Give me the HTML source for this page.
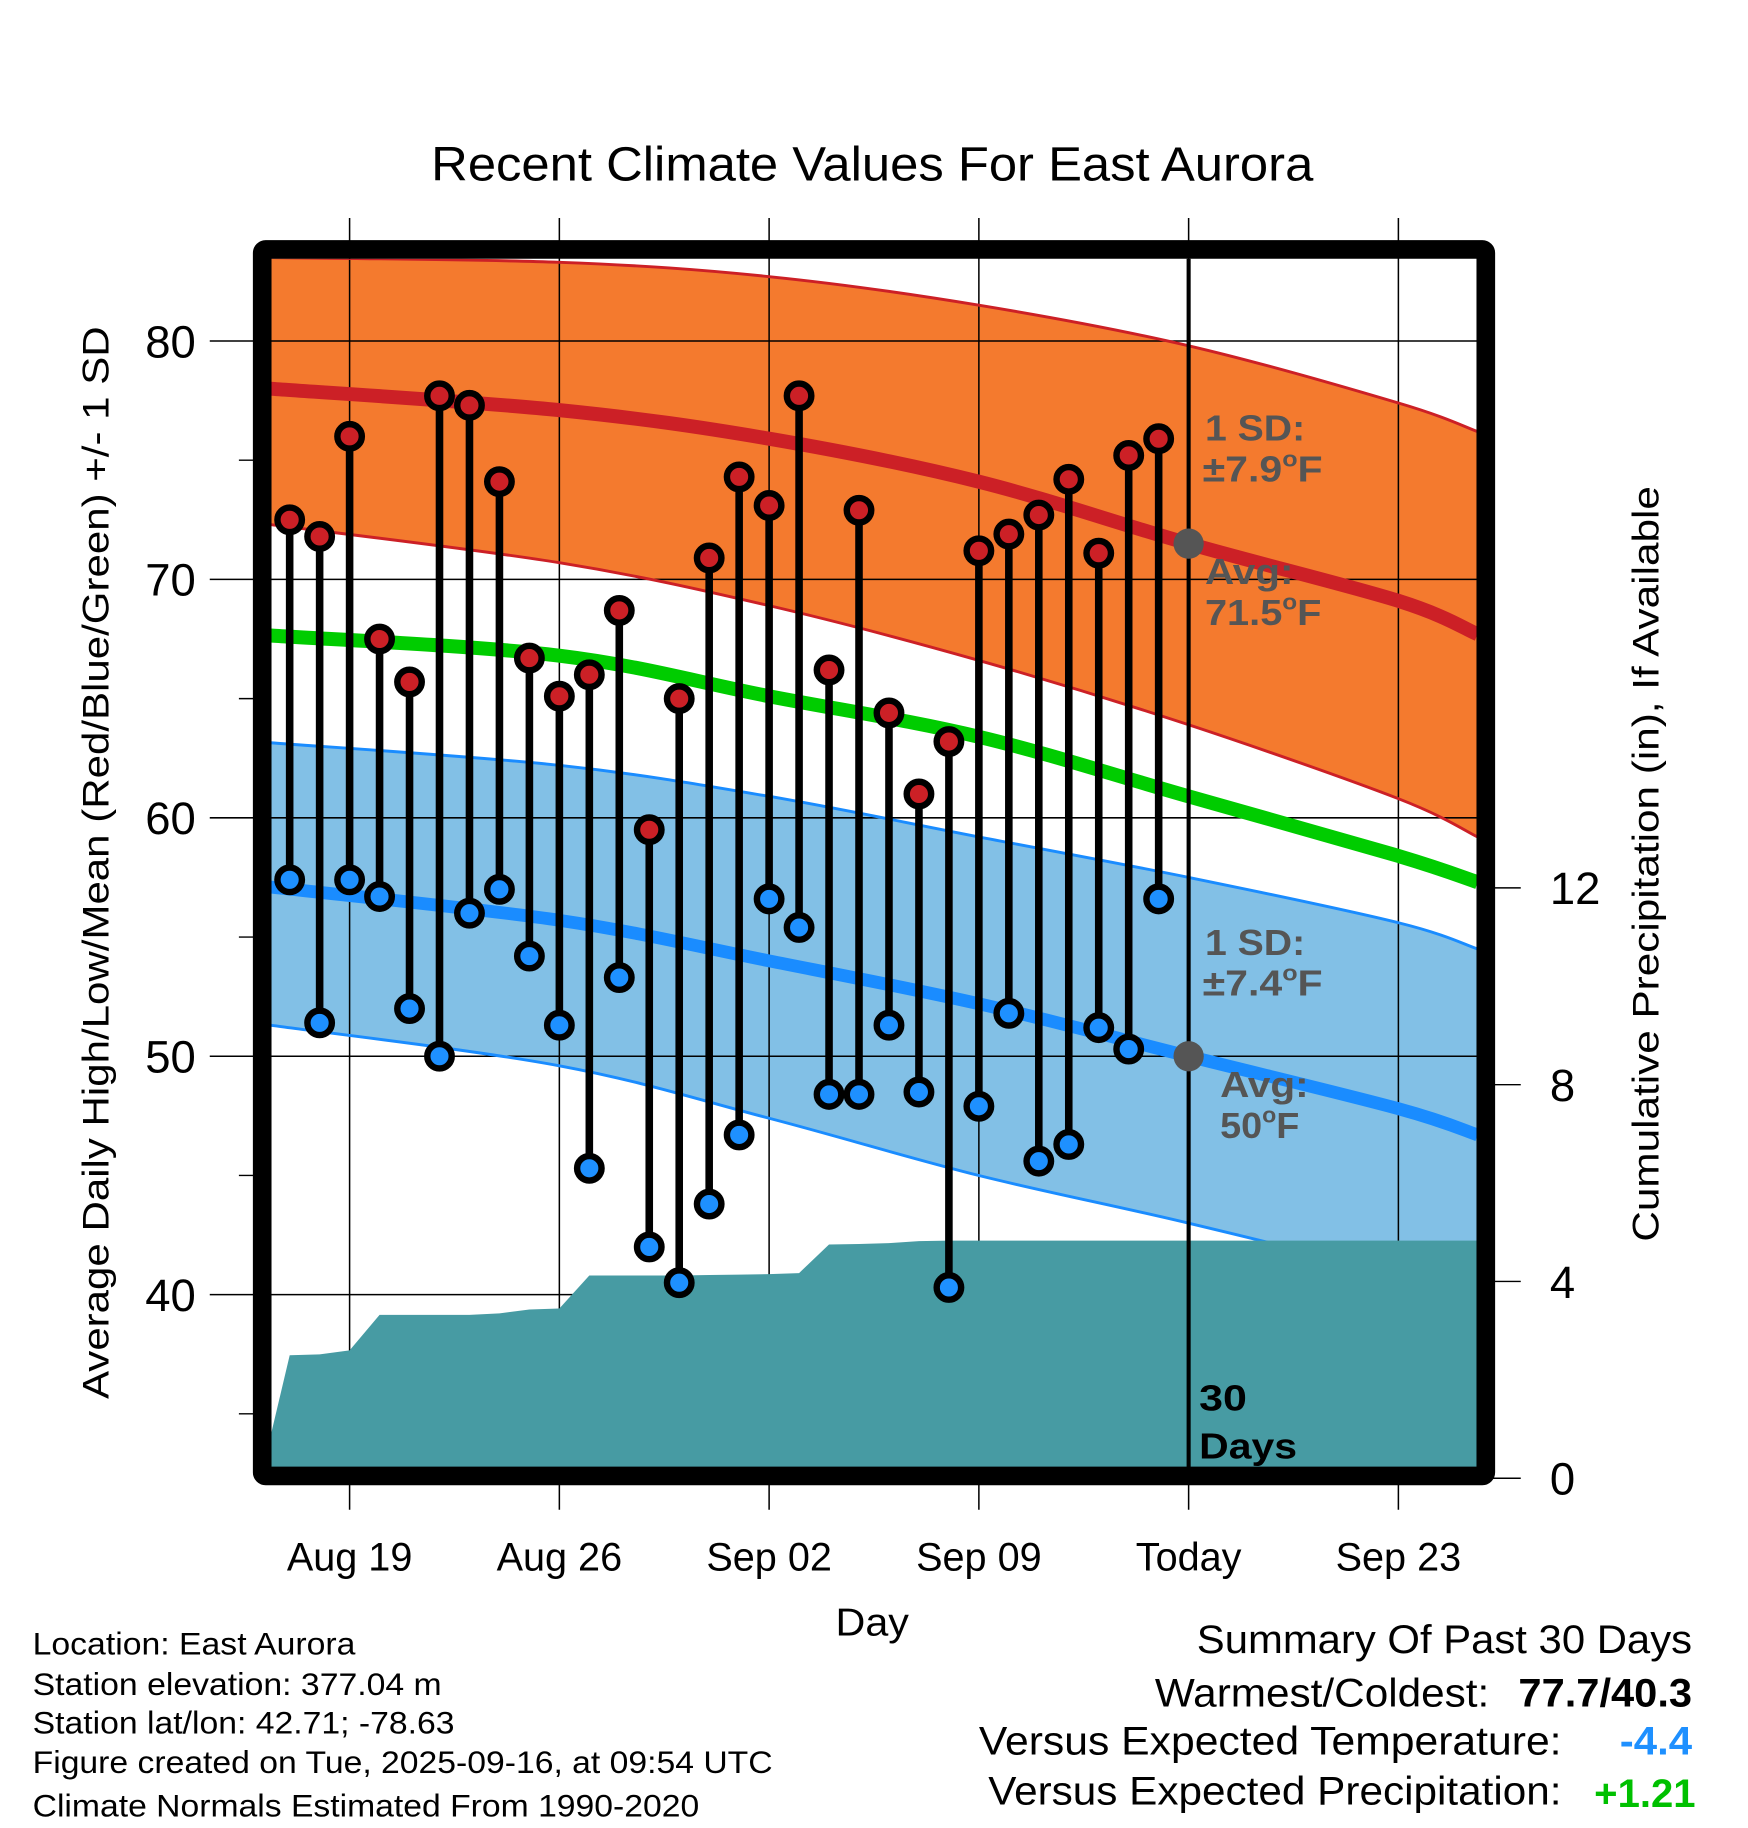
<!DOCTYPE html>
<html><head><meta charset="utf-8"><style>
html,body{margin:0;padding:0;background:#fff;}
svg{display:block;font-family:"Liberation Sans",Arial,sans-serif;}
</style></head><body>
<svg id="chart" width="1748" height="1828" viewBox="0 0 1500 1568" preserveAspectRatio="none" xmlns="http://www.w3.org/2000/svg">
<defs><clipPath id="plotclip"><rect x="232" y="222" width="1036" height="1037"/></clipPath></defs>
<g id="fills" clip-path="url(#plotclip)"></g>
<g id="grid"></g>
<g id="lines" clip-path="url(#plotclip)"></g>
<g id="precip" clip-path="url(#plotclip)"></g>
<g id="marks"></g>
<g id="labels"></g>
<rect x="225" y="214" width="1050" height="1052" fill="none" stroke="#000" stroke-width="16" rx="3"/>
<text x="370" y="155" font-size="41" textLength="757" lengthAdjust="spacingAndGlyphs">Recent Climate Values For East Aurora</text>
<text transform="translate(93,740) rotate(-90)" font-size="32" text-anchor="middle" textLength="920" lengthAdjust="spacingAndGlyphs">Average Daily High/Low/Mean (Red/Blue/Green) +/- 1 SD</text>
<text transform="translate(1423,741) rotate(-90)" font-size="32" text-anchor="middle" textLength="648" lengthAdjust="spacingAndGlyphs">Cumulative Precipitation (in), If Available</text>
<text x="717" y="1403" font-size="33" textLength="63" lengthAdjust="spacingAndGlyphs">Day</text>
<g font-size="27">
<text x="28" y="1419" textLength="277" lengthAdjust="spacingAndGlyphs">Location: East Aurora</text>
<text x="28" y="1454" textLength="351" lengthAdjust="spacingAndGlyphs">Station elevation: 377.04 m</text>
<text x="28" y="1487" textLength="362" lengthAdjust="spacingAndGlyphs">Station lat/lon: 42.71; -78.63</text>
<text x="28" y="1521" textLength="635" lengthAdjust="spacingAndGlyphs">Figure created on Tue, 2025-09-16, at 09:54 UTC</text>
<text x="28" y="1558" textLength="572" lengthAdjust="spacingAndGlyphs">Climate Normals Estimated From 1990-2020</text>
</g>
<g font-size="34">
<text x="1027" y="1418" textLength="425" lengthAdjust="spacingAndGlyphs">Summary Of Past 30 Days</text>
<text x="991" y="1464" textLength="287" lengthAdjust="spacingAndGlyphs">Warmest/Coldest:</text>
<text x="1303" y="1464" font-weight="bold" textLength="149" lengthAdjust="spacingAndGlyphs">77.7/40.3</text>
<text x="840" y="1505" textLength="500" lengthAdjust="spacingAndGlyphs">Versus Expected Temperature:</text>
<text x="1390" y="1505" font-weight="bold" fill="#1e90ff" textLength="62" lengthAdjust="spacingAndGlyphs">-4.4</text>
<text x="848" y="1548" textLength="492" lengthAdjust="spacingAndGlyphs">Versus Expected Precipitation:</text>
<text x="1368" y="1550" font-weight="bold" fill="#00c000" textLength="87" lengthAdjust="spacingAndGlyphs">+1.21</text>
</g>
</svg>
<script>
// Data (day index: 0 = Aug 19)
const obsDays = [-2,-1,0,1,2,3,4,5,6,7,8,9,10,11,12,13,14,15,16,17,18,19,20,21,22,23,24,25,26,27];
const highs = [72.5,71.8,76,67.5,65.7,77.7,77.3,74.1,66.7,65.1,66,68.7,59.5,65,70.9,74.3,73.1,77.7,66.2,72.9,64.4,61,63.2,71.2,71.9,72.7,74.2,71.1,75.2,75.9];
const lows = [57.4,51.4,57.4,56.7,52,50,56,57,54.2,51.3,45.3,53.3,42,40.5,43.8,46.7,56.6,55.4,48.4,48.4,51.3,48.5,40.3,47.9,51.8,45.6,46.3,51.2,50.3,56.6];
const cumPrecip = [2.5,2.52,2.6,3.32,3.32,3.32,3.32,3.35,3.43,3.45,4.12,4.12,4.12,4.12,4.13,4.14,4.15,4.17,4.75,4.76,4.78,4.82,4.83,4.83,4.83,4.83,4.83,4.83,4.83,4.83];
const normDays = [-2.64,7,14,21,28,35,37.64];
const avgHigh = [78.0,77.1,75.9,74.1,71.5,69.1,67.7];
const highUpper = [83.5,83.3,82.7,81.5,79.8,77.4,76.2];
const highLower = [72.3,70.7,68.9,66.6,63.9,60.8,59.2];
const avgMean = [67.65,66.8,65.1,63.4,60.9,58.4,57.3];
const avgLow = [57.1,55.7,54.0,52.2,50.0,47.8,46.7];
const lowUpper = [63.15,62.2,60.9,59.2,57.5,55.6,54.5];
const lowLower = [51.3,49.6,47.4,45.0,43.0,40.8,39.8];
const xTickDays = [0,7,14,21,28,35];
const xTickLabels = ["Aug 19","Aug 26","Sep 02","Sep 09","Today","Sep 23"];
const yTicks = [40,50,60,70,80];
const yMinor = [35,45,55,65,75];
const pTicks = [0,4,8,12];
const todayDay = 28;

const X = d => 300 + d*25.714;
const Y = v => 906 - (v-50)*20.45;
const P = v => 1268 - v*42.2;
const NS = "http://www.w3.org/2000/svg";
function mk(tag, parent, attrs){const e=document.createElementNS(NS,tag);for(const k in attrs)e.setAttribute(k,attrs[k]);document.getElementById(parent).appendChild(e);return e;}
function xy(days, vals){return days.map((d,i)=>[X(d),Y(vals[i])]);}
// Catmull-Rom smooth path segment (without leading M)
function smooth(p){
  let s = "";
  for(let i=0;i<p.length-1;i++){
    const p0=p[Math.max(0,i-1)], p1=p[i], p2=p[i+1], p3=p[Math.min(p.length-1,i+2)];
    const c1=[p1[0]+(p2[0]-p0[0])/6, p1[1]+(p2[1]-p0[1])/6];
    const c2=[p2[0]-(p3[0]-p1[0])/6, p2[1]-(p3[1]-p1[1])/6];
    s += " C"+c1[0].toFixed(1)+","+c1[1].toFixed(1)+" "+c2[0].toFixed(1)+","+c2[1].toFixed(1)+" "+p2[0].toFixed(1)+","+p2[1].toFixed(1);
  }
  return s;
}
function curve(p){return "M"+p[0][0].toFixed(1)+","+p[0][1].toFixed(1)+smooth(p);}
function band(up, lo){
  const a = up, b = lo.slice().reverse();
  return curve(a) + " L"+b[0][0].toFixed(1)+","+b[0][1].toFixed(1)+smooth(b)+" Z";
}

let e;
e = mk("path","fills",{d:band(xy(normDays,highUpper),xy(normDays,highLower)),fill:"#f47a2e"});


e = mk("path","fills",{d:band(xy(normDays,lowUpper),xy(normDays,lowLower)),fill:"#82c0e6"});



xTickDays.forEach((d,i)=>{
  e = mk("line","grid",{x1:X(d),x2:X(d),y1:187,y2:1295,stroke:"#000","stroke-width":1.3});
  
  
  e = mk("text","labels",{x:X(d),y:1347,"font-size":34,"text-anchor":"middle"});
  e.textContent = xTickLabels[i];
  
  
});
yTicks.forEach(v=>{
  e = mk("line","grid",{x1:180,x2:1268,y1:Y(v),y2:Y(v),stroke:"#000","stroke-width":1.3});
  
  
  e = mk("text","labels",{x:168,y:Y(v)+14,"font-size":39,"text-anchor":"end"});
  e.textContent = v;
  
  
});
yMinor.forEach(v=>{
  e = mk("line","grid",{x1:205,x2:220,y1:Y(v),y2:Y(v),stroke:"#000","stroke-width":1.2});
  
  
});
pTicks.forEach(v=>{
  e = mk("line","grid",{x1:1280,x2:1305,y1:P(v),y2:P(v),stroke:"#000","stroke-width":1.2});
  
  
  e = mk("text","labels",{x:1330,y:P(v)+14,"font-size":39});
  e.textContent = v;
  
  
});

function line(days, vals, color, w){
  return mk("path","lines",{d:curve(xy(days,vals)),fill:"none",stroke:color,"stroke-width":w,"stroke-linecap":"butt"});
}
e = line(normDays,highUpper,"#cc2026",2.5);


e = line(normDays,highLower,"#cc2026",2.5);


e = line(normDays,lowUpper,"#1a8cff",2.5);


e = line(normDays,lowLower,"#1a8cff",2.5);


e = line(normDays,avgHigh,"#cc2026",12);


e = line(normDays,avgMean,"#00cc00",12);


e = line(normDays,avgLow,"#1a8cff",11);



let pp = [X(-2.64)+","+P(0), X(-2.64)+","+P(0.85)];
obsDays.forEach((d,i)=>pp.push(X(d).toFixed(1)+","+P(cumPrecip[i]).toFixed(1)));
pp.push(X(38)+","+P(cumPrecip[cumPrecip.length-1]).toFixed(1));
pp.push(X(38)+","+P(0));
e = mk("polygon","precip",{points:pp.join(" "),fill:"#479ba3"});



e = mk("line","marks",{x1:X(todayDay),x2:X(todayDay),y1:222,y2:1262,stroke:"#000","stroke-width":3.5});



obsDays.forEach((d,i)=>{
  e = mk("line","marks",{x1:X(d),x2:X(d),y1:Y(highs[i]),y2:Y(lows[i]),stroke:"#000","stroke-width":6.5});
  
  
});
obsDays.forEach((d,i)=>{
  e = mk("circle","marks",{cx:X(d),cy:Y(highs[i]),r:10.5,fill:"#cc2026",stroke:"#000","stroke-width":5.5});
  
  
  e = mk("circle","marks",{cx:X(d),cy:Y(lows[i]),r:10.5,fill:"#1e90ff",stroke:"#000","stroke-width":5.5});
  
  
});
const todayHigh = avgHigh[4], todayLow = avgLow[4];
e = mk("circle","marks",{cx:X(todayDay),cy:Y(todayHigh),r:13,fill:"#555"});


e = mk("circle","marks",{cx:X(todayDay),cy:Y(todayLow),r:13,fill:"#555"});



function ann(x,y,txt,fill,len){
  const t = mk("text","labels",{x:x,y:y,"font-size":31,"font-weight":"bold",fill:fill,textLength:len,lengthAdjust:"spacingAndGlyphs"});
  t.innerHTML = txt;
  return t;
}
e = ann(1034,378,"1 SD:","#555",86);


e = ann(1032,413,"±7.9<tspan dy='-13' font-size='19'>o</tspan><tspan dy='13'>F</tspan>","#555",103);


e = ann(1034,501,"Avg:","#555",76);


e = ann(1034,536,"71.5<tspan dy='-13' font-size='19'>o</tspan><tspan dy='13'>F</tspan>","#555",100);


e = ann(1034,819,"1 SD:","#555",86);


e = ann(1032,854,"±7.4<tspan dy='-13' font-size='19'>o</tspan><tspan dy='13'>F</tspan>","#555",103);


e = ann(1047,941,"Avg:","#555",76);


e = ann(1047,976,"50<tspan dy='-13' font-size='19'>o</tspan><tspan dy='13'>F</tspan>","#555",68);


e = ann(1029,1210,"30","#000",41);


e = ann(1029,1251,"Days","#000",84);


</script>
</body></html>
